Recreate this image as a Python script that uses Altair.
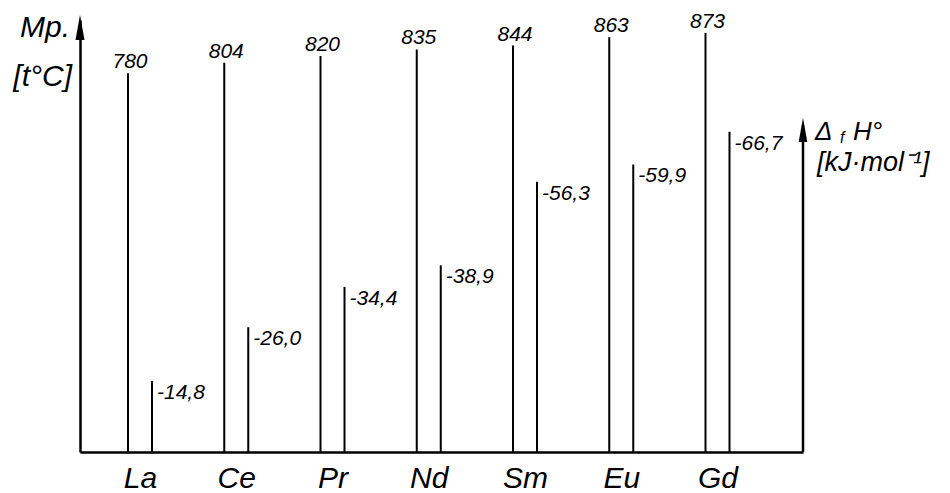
import altair as alt
import pandas as pd

# ---- data ----
elements = ["La", "Ce", "Pr", "Nd", "Sm", "Eu", "Gd"]
melting_points = [780, 804, 820, 835, 844, 863, 873]          # Mp [t °C]
enthalpy = [-14.8, -26.0, -34.4, -38.9, -56.3, -59.9, -66.7]   # ΔfH° [kJ/mol]

df = pd.DataFrame({
    "element": elements,
    "idx": list(range(len(elements))),
    "mp": melting_points,
    "mp_label": [str(v) for v in melting_points],
    "dh": [abs(v) for v in enthalpy],
    "dh_label": [("-%.1f" % abs(v)).replace(".", ",") for v in enthalpy],
})

FONT = "Liberation Sans"
W, H = 723, 432
label_expr = "[" + ",".join("'%s'" % e for e in elements) + "][datum.value]"
x_scale = alt.Scale(domain=[-0.6234, 6.8883], nice=False, zero=False)

x_enc = alt.X("idx:Q", scale=x_scale,
              axis=alt.Axis(values=list(range(len(elements))), labelExpr=label_expr,
                            title=None, ticks=False, tickSize=0, grid=False,
                            domainColor="black", domainWidth=2.5,
                            labelFont=FONT, labelFontSize=30, labelFontStyle="italic",
                            labelColor="black", labelPadding=11))

mp_scale = alt.Scale(domain=[-98.2, 903.2], nice=False, zero=False)
dh_scale = alt.Scale(domain=[0, 90.0], nice=False, zero=False)

base = alt.Chart(df)

mp_rules = base.mark_rule(color="black", strokeWidth=2).encode(
    x=x_enc,
    xOffset=alt.value(-12),
    y=alt.Y("mp:Q", scale=mp_scale,
            axis=alt.Axis(orient="left", labels=False, ticks=False, grid=False,
                          title=None, domainColor="black", domainWidth=2.5)),
    y2=alt.value(H),
)
mp_text = base.mark_text(font=FONT, fontSize=21, fontStyle="italic", color="black",
                         baseline="bottom", align="center", dy=-1, dx=2).encode(
    x=alt.X("idx:Q", scale=x_scale),
    xOffset=alt.value(-12),
    y=alt.Y("mp:Q", scale=mp_scale),
    text="mp_label:N",
)
mp_layer = alt.layer(mp_rules, mp_text)

dh_rules = base.mark_rule(color="black", strokeWidth=2).encode(
    x=alt.X("idx:Q", scale=x_scale),
    xOffset=alt.value(12),
    y=alt.Y("dh:Q", scale=dh_scale, axis=None),
    y2=alt.value(H),
)
dh_text = base.mark_text(font=FONT, fontSize=21, fontStyle="italic", color="black",
                         baseline="top", align="left", dx=5, dy=1).encode(
    x=alt.X("idx:Q", scale=x_scale),
    xOffset=alt.value(12),
    y=alt.Y("dh:Q", scale=dh_scale),
    text="dh_label:N",
)
dh_layer = alt.layer(dh_rules, dh_text)

# ---- decorations: arrowheads, right axis, axis titles ----
arrow_shape = "M0,-1L0.36,1L-0.36,1Z"
deco_df = pd.DataFrame({"k": [0]})
deco = alt.Chart(deco_df)

left_head = deco.mark_point(shape=arrow_shape, size=625, filled=True, color="black",
                            opacity=1).encode(x=alt.value(0), y=alt.value(7.5))
right_axis = deco.mark_rule(color="black", strokeWidth=2.5).encode(
    x=alt.value(W), y=alt.value(105), y2=alt.value(H))
right_head = deco.mark_point(shape=arrow_shape, size=576, filled=True, color="black",
                             opacity=1).encode(x=alt.value(W), y=alt.value(110))

def label(text, x, y, size=28, align="left"):
    return deco.mark_text(text=text, font=FONT, fontSize=size, fontStyle="italic",
                          color="black", align=align, baseline="alphabetic").encode(
        x=alt.value(x), y=alt.value(y))

titles = [
    label("Mp.", -10, 17, size=30, align="right"),
    label("[t°C]", -8, 66, size=30, align="right"),
    label("Δ", 735, 120, size=26),
    label("f", 760, 123, size=16),
    label("H°", 773, 120, size=26),
    label("[kJ·mol⁻¹]", 737, 151, size=27),
]

chart = alt.layer(mp_layer, dh_layer, left_head, right_axis, right_head, *titles).resolve_scale(
    y="independent"
).properties(
    width=W, height=H,
    autosize=alt.AutoSizeParams(type="none"),
    padding={"left": 72, "top": 12, "right": 139, "bottom": 41},
    background="white",
).configure_view(stroke=None)

chart.save("out.html", embed_options={"renderer": "svg", "actions": False})
